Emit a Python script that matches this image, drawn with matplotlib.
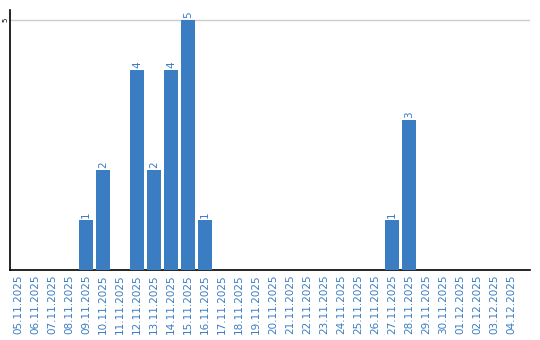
import matplotlib.pyplot as plt

dates = ['05.11.2025', '06.11.2025', '07.11.2025', '08.11.2025', '09.11.2025',
         '10.11.2025', '11.11.2025', '12.11.2025', '13.11.2025', '14.11.2025',
         '15.11.2025', '16.11.2025', '17.11.2025', '18.11.2025', '19.11.2025',
         '20.11.2025', '21.11.2025', '22.11.2025', '23.11.2025', '24.11.2025',
         '25.11.2025', '26.11.2025', '27.11.2025', '28.11.2025', '29.11.2025',
         '30.11.2025', '01.12.2025', '02.12.2025', '03.12.2025', '04.12.2025']
counts = [0, 0, 0, 0, 1, 2, 0, 4, 2, 4, 5, 1, 0, 0, 0,
          0, 0, 0, 0, 0, 0, 0, 1, 3, 0, 0, 0, 0, 0, 0]

blue = '#3a7dc2'

fig = plt.figure(figsize=(5.4, 3.4), dpi=100)
ax = fig.add_axes([10 / 540, 70 / 340, 520 / 540, 260 / 340])

x = range(len(dates))
ax.bar(x, counts, width=14 / 17, color=blue, zorder=3)
for i, v in enumerate(counts):
    if v > 0:
        ax.text(i, v + 0.04, str(v), rotation=90, ha='center', va='bottom',
                color=blue, fontsize=7.5)

ax.set_xlim(-0.47, 30.1)
ax.set_ylim(0, 5.2)
ax.set_yticks([5])
ax.set_yticklabels(['5'], rotation=90, va='center', fontsize=5)
ax.yaxis.grid(True, color='#cccccc', linewidth=1, zorder=0)
ax.set_xticks(list(x))
ax.set_xticklabels(dates, rotation=90, color=blue, fontsize=7.5)
ax.tick_params(length=0, pad=3)
ax.tick_params(axis='y', pad=1)

for s in ['top', 'right']:
    ax.spines[s].set_visible(False)
ax.spines['left'].set_linewidth(1.2)
ax.spines['bottom'].set_linewidth(1.2)

fig.savefig('out.png', dpi=100)
